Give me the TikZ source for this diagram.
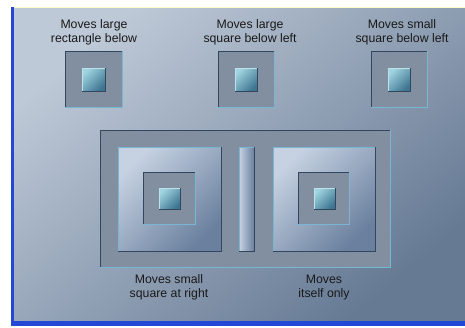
\documentclass[tikz,border=0pt]{standalone}
\usepackage{fontspec}
\setmainfont{Liberation Sans}
\definecolor{bgA}{RGB}{190,201,215}
\definecolor{bgB}{RGB}{102,122,148}
\definecolor{frameFill}{RGB}{130,143,161}
\definecolor{darkEdge}{RGB}{50,70,96}
\definecolor{lightEdge}{RGB}{120,182,212}
\definecolor{cyanLight}{RGB}{160,212,224}
\definecolor{cyanDark}{RGB}{62,118,146}
\definecolor{bigLight}{RGB}{198,210,226}
\definecolor{bigDark}{RGB}{106,128,158}
\definecolor{edgeBlue}{RGB}{36,72,214}
\tikzset{
  lbl/.style={align=center, inner sep=0pt, anchor=base, text=black!90,
    font=\fontsize{12.3}{13.3}\selectfont},
  sunken/.style={fill=frameFill},
  raised/.style={shading=axis, top color=cyanLight, bottom color=cyanDark, shading angle=45},
  bigsq/.style={shading=axis, top color=bigLight, bottom color=bigDark, shading angle=45},
  hi/.style={draw=lightEdge, line width=1pt},
  lo/.style={draw=darkEdge, line width=1pt},
}
\newcommand\bevelbox[6]{%
  \draw[#5] (#1,#4) -- (#1,#2) -- (#3,#2);
  \draw[#6] (#3,#2) -- (#3,#4) -- (#1,#4);
}
\newcommand\sunkbox[4]{\fill[sunken] (#1,#2) rectangle (#3,#4);\bevelbox{#1}{#2}{#3}{#4}{lo}{hi}}
\newcommand\upbox[4]{\shade[raised] (#1,#2) rectangle (#3,#4);\bevelbox{#1}{#2}{#3}{#4}{hi,draw=cyanLight!70!white}{lo}}
\newcommand\bigbox[4]{\shade[bigsq] (#1,#2) rectangle (#3,#4);\bevelbox{#1}{#2}{#3}{#4}{hi}{lo}}
\begin{document}
\begin{tikzpicture}[x=1pt,y=-1pt]
\useasboundingbox (0,0) rectangle (465,327);
\fill[white] (0,0) rectangle (465,327);
% panel
\shade[shading=axis, top color=bgA, bottom color=bgB, shading angle=40] (11,7) rectangle (465,325);
\draw[white!80!yellow, line width=0.8pt] (11,7) -- (465,7);
\fill[edgeBlue] (11,7) rectangle (14,325);
\fill[edgeBlue] (11,321) rectangle (465,325.5);
% top row
\sunkbox{65}{51}{122}{107}
\upbox{82}{68}{105}{91}
\sunkbox{218}{51}{274}{107}
\upbox{235}{68}{257}{91}
\sunkbox{371}{51}{427}{107}
\upbox{388}{68}{410}{91}
\node[lbl] (t1) at (94,42) {Moves large\\rectangle below};
\node[lbl] (t2) at (250,42) {Moves large\\square below left};
\node[lbl] (t3) at (402,42) {Moves small\\square below left};
% bottom group
\sunkbox{100}{130}{390}{267}
\bigbox{118}{147}{221}{251}
\sunkbox{143}{172}{195}{224}
\upbox{159}{188}{180}{209}
\shade[shading=axis, left color=bigLight, right color=bigDark] (239,147) rectangle (254,251);
\bevelbox{239}{147}{254}{251}{hi}{lo}
\bigbox{273}{147}{375}{251}
\sunkbox{298}{172}{349}{224}
\upbox{314}{188}{335}{209}
\node[lbl] (b1) at (169,297) {Moves small\\square at right};
\node[lbl] (b2) at (324,297) {Moves\\itself only};
\end{tikzpicture}
\end{document}
